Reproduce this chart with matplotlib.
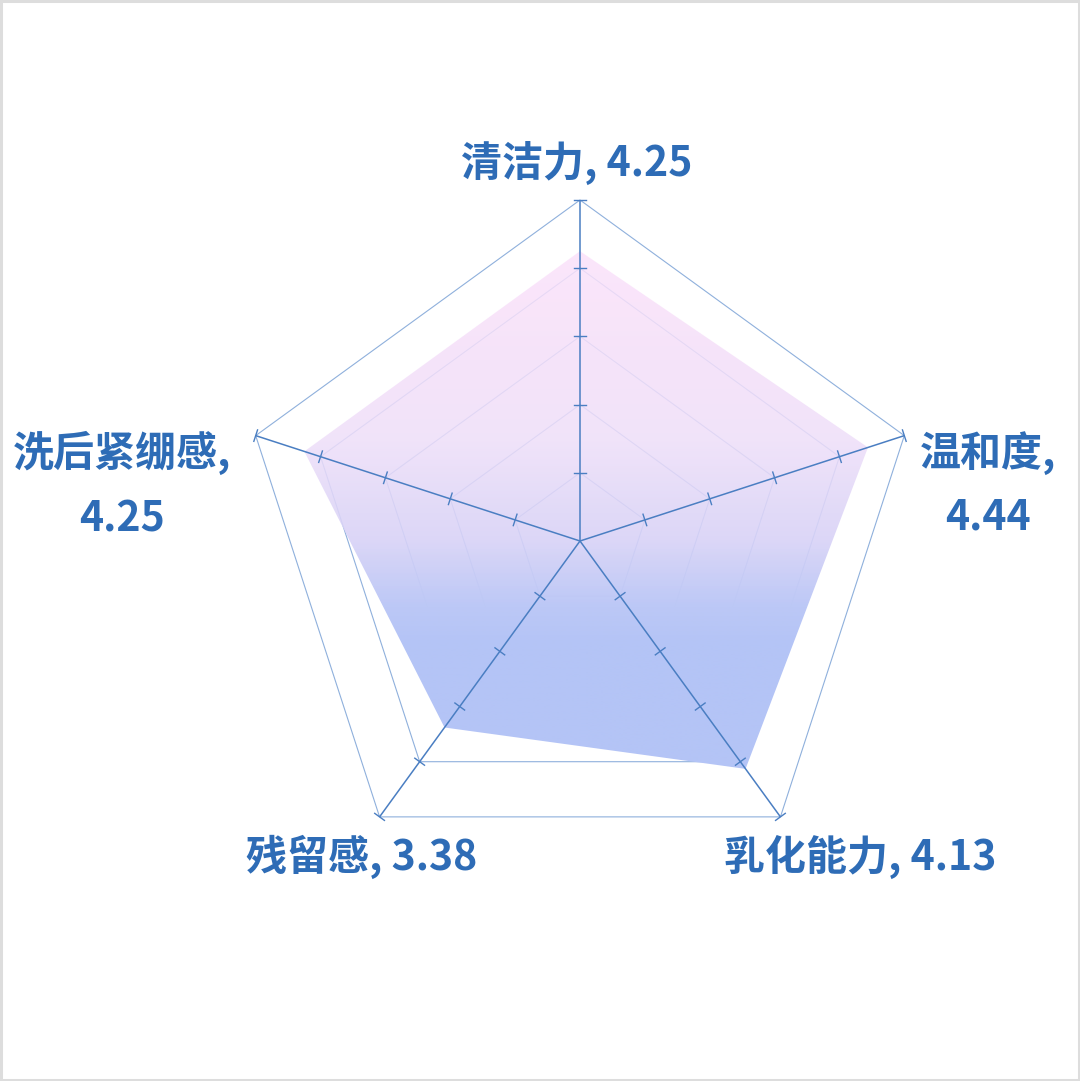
import numpy as np
import matplotlib
matplotlib.use("Agg")
import matplotlib.pyplot as plt
from matplotlib.patches import Polygon, Rectangle
from matplotlib.colors import to_rgb

plt.rcParams['font.family'] = ['Noto Sans CJK SC', 'DejaVu Sans']

# ---- data ----
categories = ["清洁力", "温和度", "乳化能力", "残留感", "洗后紧绷感"]
values = [4.25, 4.44, 4.13, 3.38, 4.25]
max_value = 5
levels = [1, 2, 3, 4, 5]

# ---- layout ----
W, H = 1080, 1081
cx_px, cy_px = 580, 541
px_per_unit = 68.2
text_color = "#2e6cb6"
axis_color = "#4a7ec2"
ring_color = "#8fb0dc"

fig = plt.figure(figsize=(W / 100, H / 100), dpi=100)
ax = fig.add_axes([0, 0, 1, 1])
ax.set_xlim(-cx_px / px_per_unit, (W - cx_px) / px_per_unit)
ax.set_ylim(-(H - cy_px) / px_per_unit, cy_px / px_per_unit)
ax.set_aspect('equal')
ax.axis('off')

n = len(categories)
angles = np.deg2rad(90 - 360 / n * np.arange(n))
ux, uy = np.cos(angles), np.sin(angles)

# grid rings (under the fill)
for lv in levels:
    ax.add_patch(Polygon(np.column_stack([ux * lv, uy * lv]), closed=True,
                         fill=False, edgecolor=ring_color, lw=0.8, zorder=1))

# gradient-filled data polygon
vals = np.array(values)
pts = np.column_stack([ux * vals, uy * vals])
poly = Polygon(pts, closed=True, facecolor='none', edgecolor='none', zorder=2)
ax.add_patch(poly)
ymin, ymax = pts[:, 1].min(), pts[:, 1].max()
xmin, xmax = pts[:, 0].min(), pts[:, 0].max()
top_px = cy_px - ymax * px_per_unit
bot_px = cy_px - ymin * px_per_unit
rows = np.linspace(top_px, bot_px, 600)
stop_rows = [top_px, 440, 540, 607, 645, bot_px]
stop_cols = ["#fce6fb", "#f1e3fa", "#dcd7f8", "#bcc8f6", "#b4c4f6", "#b4c4f6"]
stop_alpha = [0.85, 0.85, 0.9, 1.0, 1.0, 1.0]
rgb = np.array([to_rgb(c) for c in stop_cols])
img = np.zeros((len(rows), 1, 4))
for k in range(3):
    img[:, 0, k] = np.interp(rows, stop_rows, rgb[:, k])
img[:, 0, 3] = np.interp(rows, stop_rows, stop_alpha)
# pre-compensate colour so blended result over white matches target
a = img[:, 0, 3:4]
img[:, 0, :3] = np.clip(1 - (1 - img[:, 0, :3]) / a, 0, 1)
im = ax.imshow(img, extent=[xmin, xmax, ymin, ymax], origin='upper',
               aspect='auto', zorder=2, interpolation='bilinear')
im.set_clip_path(poly)

# radial axes with ticks (on top)
tick_half = 6 / px_per_unit
for i in range(n):
    ax.plot([0, ux[i] * max_value], [0, uy[i] * max_value],
            color=axis_color, lw=1.1, zorder=4, solid_capstyle='butt')
    px_, py_ = -uy[i], ux[i]
    for lv in levels:
        bx, by = ux[i] * lv, uy[i] * lv
        ax.plot([bx - px_ * tick_half, bx + px_ * tick_half],
                [by - py_ * tick_half, by + py_ * tick_half],
                color=axis_color, lw=1.0, zorder=4)

# labels (pixel positions of centres)
def to_data(px, py):
    return (px - cx_px) / px_per_unit, (cy_px - py) / px_per_unit

label_layout = [
    [(577, 163)],
    [(988, 453), (988, 518)],
    [(860, 857)],
    [(362, 857)],
    [(122, 453), (122, 520)],
]
for cat, val, lay in zip(categories, values, label_layout):
    if len(lay) == 1:
        parts = [f"{cat}, {val:.2f}"]
    else:
        parts = [f"{cat},", f"{val:.2f}"]
    for txt, (px, py) in zip(parts, lay):
        x, y = to_data(px, py)
        ax.text(x, y, txt, ha='center', va='center', fontsize=29.5,
                fontweight='bold', color=text_color, zorder=5)

# light border around the picture
fig.patches.append(Rectangle((0.001, 0.001), 0.998, 0.998, transform=fig.transFigure,
                             fill=False, edgecolor="#dddddd", lw=2.2))

fig.savefig("out.png", dpi=100, facecolor="white")
